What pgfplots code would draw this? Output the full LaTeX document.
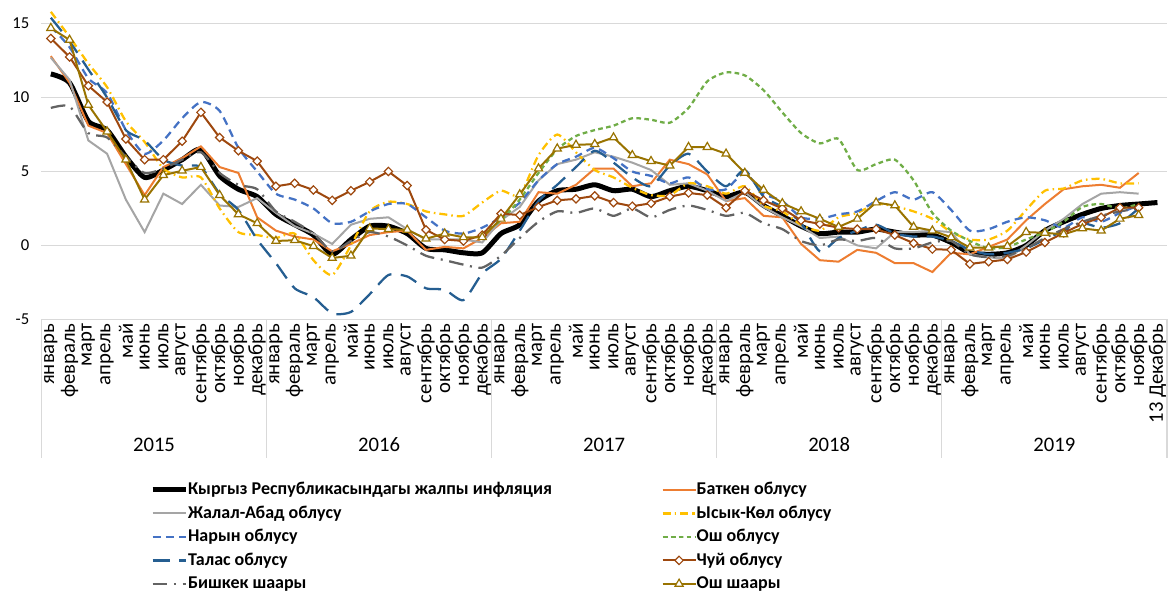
\documentclass[border=0pt]{standalone}
\usepackage{pgfplots}
\pgfplotsset{compat=1.18}
\usepackage{pgfplotstable}
\usepackage{fontspec}
\setmainfont{Carlito}
\definecolor{cBat}{HTML}{ED7D31}
\definecolor{cJal}{HTML}{A5A5A5}
\definecolor{cYsk}{HTML}{FFC000}
\definecolor{cNar}{HTML}{4472C4}
\definecolor{cOsho}{HTML}{70AD47}
\definecolor{cTal}{HTML}{255E91}
\definecolor{cChui}{HTML}{9E480E}
\definecolor{cBish}{HTML}{636363}
\definecolor{cOshs}{HTML}{997300}
\definecolor{gridgray}{HTML}{D9D9D9}

\pgfplotstableread{
i tot bat jal ysk nar osho tal chui bish oshs
0 11.6 12.8 12.7 15.8 14.8 nan 15.4 14.0 9.3 14.7
1 11.0 11.0 11.2 14.1 13.4 nan 13.8 12.75 9.4 13.9
2 8.4 8.1 7.1 12.3 11.3 nan 11.9 10.8 7.6 9.5
3 7.8 7.6 6.2 10.7 10.3 nan 10.0 9.7 7.3 7.7
4 6.0 5.5 3.1 8.4 7.8 nan 7.8 7.2 6.0 5.8
5 4.6 3.4 0.9 7.0 6.2 nan 7.1 5.8 4.9 3.1
6 5.1 5.3 3.5 5.2 7.1 nan 5.8 5.8 5.2 4.75
7 5.8 5.9 2.8 4.6 8.6 nan 5.4 7.05 5.8 5.05
8 6.5 6.7 4.1 4.6 9.7 nan 5.3 9.0 6.3 5.3
9 4.7 5.3 2.7 2.5 9.1 nan 3.5 7.3 4.9 3.4
10 3.8 4.9 2.6 0.9 6.6 nan 2.4 6.4 4.1 2.1
11 3.3 1.9 3.2 0.7 5.0 nan 0.4 5.7 3.8 1.5
12 2.1 1.0 2.2 0.5 3.5 nan -1.2 4.0 2.3 0.3
13 1.4 0.6 1.3 0.8 3.1 nan -2.9 4.2 1.6 0.35
14 0.7 0.4 0.8 -1.0 2.5 nan -3.5 3.75 0.8 -0.05
15 -0.6 -0.4 0.1 -2.0 1.5 nan -4.6 3.05 -0.4 -0.85
16 0.4 0.1 1.4 0.0 1.6 nan -4.5 3.7 0.3 -0.7
17 1.3 0.7 1.8 2.3 2.3 nan -3.3 4.3 0.9 1.15
18 1.3 0.9 1.9 2.95 2.8 nan -2.0 5.0 0.6 1.1
19 0.8 1.0 1.1 2.8 2.8 nan -2.1 4.05 0.0 1.05
20 -0.2 -0.3 0.4 2.3 1.9 nan -2.9 1.05 -0.7 0.45
21 -0.3 -0.1 0.4 2.1 1.0 nan -3.0 0.4 -1.0 0.8
22 -0.5 -0.2 0.4 2.0 0.8 nan -3.7 0.3 -1.3 0.55
23 -0.5 0.5 0.2 2.9 1.2 0.8 -1.9 0.7 -1.5 0.55
24 0.8 1.5 1.7 3.7 1.9 1.7 -0.9 2.15 -0.7 1.8
25 1.4 1.6 2.6 3.4 2.9 3.1 1.0 2.05 0.5 3.45
26 3.0 3.6 4.4 6.1 4.4 4.9 3.0 2.6 1.6 5.2
27 3.7 3.5 5.5 7.5 5.5 6.5 4.1 3.05 2.3 6.55
28 3.8 4.1 5.8 6.3 6.0 7.4 5.3 3.15 2.2 6.8
29 4.1 5.2 6.3 5.1 6.6 7.8 6.4 3.35 2.5 6.85
30 3.7 5.2 6.0 4.6 5.9 8.1 5.6 2.9 2.0 7.3
31 3.8 4.0 5.6 3.9 5.0 8.6 4.6 2.65 2.5 6.1
32 3.3 4.2 5.1 3.4 4.7 8.5 4.0 2.85 1.9 5.7
33 3.7 5.8 4.1 3.4 4.2 8.3 5.4 3.3 2.4 5.4
34 4.0 5.5 4.2 4.2 4.6 9.3 6.2 3.55 2.7 6.65
35 3.7 4.8 3.7 4.0 3.8 11.1 5.0 3.4 2.4 6.65
36 3.3 3.0 3.0 3.5 3.8 11.7 4.0 2.55 2.0 6.2
37 3.6 3.2 3.6 4.0 4.9 11.5 5.1 3.7 2.2 4.9
38 2.7 2.0 2.6 2.7 3.5 10.5 3.3 3.05 1.5 3.75
39 2.0 1.9 1.9 2.3 3.0 9.0 2.6 2.5 1.1 2.85
40 1.3 0.1 1.3 1.4 1.9 7.6 1.5 1.7 0.3 2.3
41 0.8 -1.0 0.5 1.0 1.8 6.9 -0.4 1.45 0.0 1.8
42 0.9 -1.1 0.6 1.9 2.1 7.2 0.5 1.2 0.4 1.25
43 0.9 -0.3 0.0 2.2 2.3 5.1 1.0 1.1 0.3 1.8
44 1.1 -0.5 -0.2 2.8 3.0 5.5 1.4 1.1 0.5 2.9
45 0.9 -1.2 0.9 2.65 3.6 5.8 0.8 0.7 -0.2 2.7
46 0.7 -1.2 0.9 2.3 3.1 4.4 0.6 0.15 -0.2 1.25
47 0.7 -1.8 1.0 1.8 3.6 2.2 0.6 -0.25 0.2 1.0
48 0.2 -0.5 0.9 0.9 2.4 1.0 0.3 -0.3 0.3 0.55
49 -0.5 -0.6 -0.6 0.4 1.0 0.3 -0.3 -1.25 -0.6 -0.15
50 -0.6 -0.1 -0.8 0.4 1.1 -0.2 -0.6 -1.1 -0.8 -0.15
51 -0.5 0.4 -0.9 1.0 1.6 -0.1 -0.5 -0.95 -0.7 -0.05
52 0.0 1.7 0.0 2.4 1.9 0.4 -0.2 -0.45 -0.2 0.9
53 1.0 2.8 1.0 3.7 1.7 0.9 0.4 0.2 0.5 0.85
54 1.6 3.8 1.8 3.85 1.2 1.6 1.0 0.85 1.1 0.75
55 2.1 4.0 2.8 4.4 1.9 2.6 1.5 1.45 1.6 1.15
56 2.5 4.1 3.5 4.5 1.6 2.8 1.2 1.9 2.0 1.0
57 2.7 3.9 3.6 4.2 2.2 2.5 1.5 2.55 2.3 1.8
58 2.8 4.9 3.5 4.2 2.7 2.8 2.5 2.55 2.5 2.05
59 2.9 nan nan nan nan nan nan nan nan nan
}\data

\begin{document}
\begin{tikzpicture}
\useasboundingbox (0,0) rectangle (876.75pt,444pt);
\begin{axis}[
  at={(31.1pt,204.5pt)}, anchor=south west,
  scale only axis, width=844pt, height=239.5pt,
  xmin=-0.5, xmax=59.5, ymin=-5, ymax=16.6,
  clip=false,
  axis line style={draw=none},
  major tick length=0pt,
  ytick={-5,0,5,10,15},
  ymajorgrids, grid style={draw=gridgray, line width=1.1pt},
  yticklabel style={font=\fontsize{12.5}{12.5}\selectfont, inner sep=0pt},
  yticklabel shift=9pt,
  /pgf/number format/assume math mode=true,
  xtick={0,...,59},
  xticklabels={январь,февраль,март,апрель,май,июнь,июль,август,сентябрь,октябрь,ноябрь,декабрь,
    январь,февраль,март,апрель,май,июнь,июль,август,сентябрь,октябрь,ноябрь,декабрь,
    январь,февраль,март,апрель,май,июнь,июль,август,сентябрь,октябрь,ноябрь,декабрь,
    январь,февраль,март,апрель,май,июнь,июль,август,сентябрь,октябрь,ноябрь,декабрь,
    январь,февраль,март,апрель,май,июнь,июль,август,сентябрь,октябрь,ноябрь,13 Декабрь},
  xticklabel style={rotate=90, anchor=east, inner sep=0pt, font=\fontsize{15.5}{15.5}\selectfont},
  xticklabel shift=3pt,
  unbounded coords=jump,
  legend columns=2,
  legend style={at={(0.0963,-0.5064)}, anchor=north west, draw=none, fill=none,
    inner sep=0pt, row sep=4.6pt,
    font=\bfseries\fontsize{13.5}{13.5}\selectfont,
    nodes={inner sep=0pt, text height=10pt, text depth=3pt}},
  legend cell align=left,
  legend image code/.code={\draw[mark repeat=2,mark phase=2,#1] plot coordinates {(0pt,0pt) (12.4pt,0pt) (24.75pt,0pt)};},
]
\addplot[black, line width=3.75pt, smooth, tension=0.4] table[x=i,y=tot]{\data};
\addlegendentry{\makebox[355pt][l]{Кыргыз Республикасындагы жалпы инфляция}}
\addplot[cBat, line width=1.5pt] table[x=i,y=bat]{\data};
\addlegendentry{Баткен облусу}
\addplot[cJal, line width=1.5pt] table[x=i,y=jal]{\data};
\addlegendentry{\makebox[355pt][l]{Жалал-Абад облусу}}
\addplot[cYsk, line width=1.7pt, smooth, tension=0.4, dash pattern=on 6pt off 3pt on 1.2pt off 3pt] table[x=i,y=ysk]{\data};
\addlegendentry{Ысык-Көл облусу}
\addplot[cNar, line width=1.7pt, smooth, tension=0.4, dash pattern=on 6pt off 4pt] table[x=i,y=nar]{\data};
\addlegendentry{\makebox[355pt][l]{Нарын облусу}}
\addplot[cOsho, line width=1.7pt, smooth, tension=0.4, dash pattern=on 3.5pt off 2.5pt] table[x=i,y=osho]{\data};
\addlegendentry{Ош облусу}
\addplot[cTal, line width=1.7pt, smooth, tension=0.4, dash pattern=on 13pt off 7pt] table[x=i,y=tal]{\data};
\addlegendentry{\makebox[355pt][l]{Талас облусу}}
\addplot[cChui, line width=1.5pt, mark=square*, mark size=2.2pt,
  mark options={rotate=45, fill=white, draw=cChui, solid, line width=0.9pt}] table[x=i,y=chui]{\data};
\addlegendentry{Чуй облусу}
\addplot[cBish, line width=1.7pt, smooth, tension=0.4, dash pattern=on 11pt off 5pt on 1.5pt off 5pt] table[x=i,y=bish]{\data};
\addlegendentry{\makebox[355pt][l]{Бишкек шаары}}
\addplot[cOshs, line width=1.5pt, mark=triangle*, mark size=3.5pt,
  mark options={fill=white, draw=cOshs, solid, line width=0.9pt}] table[x=i,y=oshs]{\data};
\addlegendentry{Ош шаары}

\foreach \xx in {-0.5,11.5,23.5,35.5,47.5,59.5}{
  \edef\tmp{\noexpand\draw[gridgray, line width=1.1pt] (axis cs:\xx,-5) -- (axis cs:\xx,-14.4);}\tmp
}
\foreach \xx/\yy in {5.5/2015,17.5/2016,29.5/2017,41.5/2018,53.5/2019}{
  \edef\tmp{\noexpand\node[font=\noexpand\fontsize{15.5}{15.5}\noexpand\selectfont] at (axis cs:\xx,-13.5) {\yy};}\tmp
}
\end{axis}
\end{tikzpicture}
\end{document}
